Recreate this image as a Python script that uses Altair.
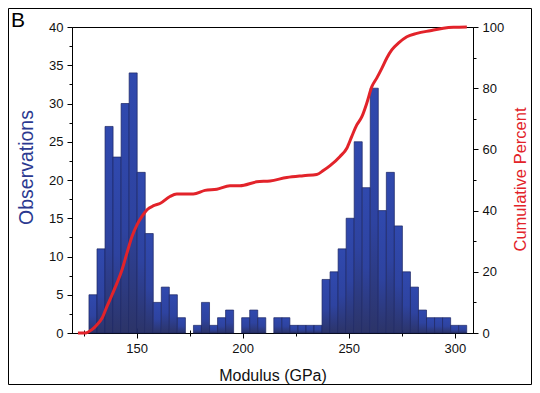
import altair as alt
import pandas as pd

# ---- data ----
counts = [5, 11, 27, 23, 30, 34, 21, 13, 4, 6, 5, 2, 0, 1, 4, 1, 2, 3, 0, 2, 3, 2, 0,
          2, 2, 1, 1, 1, 1, 7, 8, 11, 15, 25, 19, 32, 16, 21, 14, 8, 6, 3, 2, 2, 2, 1, 1]
BIN_START = 127.5
BIN_WIDTH = 3.79

cum_modulus = [122.3, 125.8, 128.9, 131.3, 133.7, 136.0, 138.4, 140.7, 143.1, 145.4,
               147.8, 150.2, 152.5, 154.9, 158.0, 161.2, 165.7, 168.9, 176.7, 182.2,
               187.8, 194.0, 198.7, 206.6, 212.9, 220.8, 228.6, 234.9, 238.0, 241.2,
               245.9, 249.1, 251.4, 253.8, 256.2, 258.5, 260.9, 263.2, 265.6, 267.9,
               270.3, 273.4, 277.4, 282.1, 288.4, 294.6, 299.4, 305.7]
cum_percent = [0, 0, 1.1, 2.7, 4.9, 8.7, 12.5, 16.3, 20.7, 26.1,
               31.5, 35.4, 38.1, 40.3, 41.6, 42.4, 44.6, 45.4, 45.4, 46.6,
               47.0, 48.1, 48.1, 49.4, 49.7, 50.8, 51.4, 51.8, 53.1, 54.7,
               57.7, 60.4, 64.2, 68.0, 70.7, 75.1, 80.5, 83.3, 86.5, 89.8,
               92.5, 94.7, 96.8, 97.9, 98.8, 99.6, 99.9, 100]

x_ticks = [125, 150, 175, 200, 225, 250, 275, 300]
y_left_ticks = [0, 2.5, 5, 7.5, 10, 12.5, 15, 17.5, 20, 22.5, 25, 27.5, 30, 32.5, 35, 37.5, 40]
y_right_ticks = [0, 10, 20, 30, 40, 50, 60, 70, 80, 90, 100]

bins = pd.DataFrame({
    "start": [BIN_START + i * BIN_WIDTH for i in range(len(counts))],
    "count": counts,
})
bins["end"] = bins["start"] + BIN_WIDTH
curve = pd.DataFrame({"modulus": cum_modulus, "percent": cum_percent})

W, H = 401, 306
X_DOMAIN = [119.5, 308.6]
FONT = "Liberation Sans"
BLUE_TITLE = "#2b3990"
RED = "#e2232a"


def ticksize(test):
    return {"condition": {"test": test, "value": 3}, "value": 5}


x_scale = alt.Scale(domain=X_DOMAIN, nice=False, zero=False)

bars = alt.Chart(bins).transform_filter("datum.count > 0").mark_bar(
    fill=alt.Gradient(
        gradient="linear",
        stops=[alt.GradientStop(color="#3049ae", offset=0),
               alt.GradientStop(color="#2e43a0", offset=0.55),
               alt.GradientStop(color="#2c3468", offset=1)],
        x1=0, x2=0, y1=0, y2=1),
    stroke="#1b2563", strokeWidth=0.7,
).encode(
    x=alt.X("start:Q", scale=x_scale, axis=alt.Axis(
        values=x_ticks, title="Modulus (GPa)",
        labelExpr="datum.value % 50 == 0 ? datum.label : ''",
        tickSize=ticksize("datum.value % 50 != 0"),
        labelPadding=4, labelFontSize=13, labelFlush=False, labelOverlap=False,
        titleFontSize=16, titleFontWeight="normal", titleX=W / 2, titleY=47,
        titleBaseline="alphabetic", titleAlign="center")),
    x2="end:Q",
    y=alt.Y("count:Q", scale=alt.Scale(domain=[0, 40], nice=False), axis=alt.Axis(
        orient="left", values=y_left_ticks, title="Observations",
        labelExpr="datum.value % 5 == 0 ? datum.label : ''",
        tickSize=ticksize("datum.value % 5 != 0"),
        labelPadding=4, labelFontSize=13, labelOverlap=False, labelFlush=False,
        titleColor=BLUE_TITLE, titleFontSize=19.5, titleFontWeight="normal",
        titleAngle=270, titleX=-40, titleY=140, titleBaseline="alphabetic",
        titleAlign="center")),
    y2=alt.datum(0),
)

line = alt.Chart(curve).mark_line(color=RED, strokeWidth=3, interpolate="monotone").encode(
    x=alt.X("modulus:Q", scale=x_scale, axis=alt.Axis(
        values=x_ticks, labels=False, title=None, offset=-H,
        tickSize=ticksize("datum.value % 50 != 0"))),
    y=alt.Y("percent:Q", scale=alt.Scale(domain=[0, 100], nice=False), axis=alt.Axis(
        orient="right", values=y_right_ticks, title="Cumulative Percent",
        labelExpr="datum.value % 20 == 0 ? datum.label : ''",
        tickSize=ticksize("datum.value % 20 != 0"),
        labelPadding=4, labelFontSize=13, labelOverlap=False, labelFlush=False,
        titleColor=RED, titleFontSize=16.5, titleFontWeight="normal",
        titleAngle=270, titleX=52, titleY=152, titleBaseline="alphabetic",
        titleAlign="center")),
)

one = alt.Data(values=[{"k": 1}])
border = alt.Chart(one).mark_rect(fillOpacity=0, stroke="black", strokeWidth=1).encode(
    x=alt.value(-63.5), x2=alt.value(W + 58.5), y=alt.value(-18.5), y2=alt.value(H + 51.5))
label_b = alt.Chart(one).mark_text(
    text="B", align="left", baseline="alphabetic", fontSize=21, font=FONT, color="black"
).encode(x=alt.value(-61), y=alt.value(0))

chart = alt.layer(border, bars, line, label_b).resolve_scale(
    y="independent"
).resolve_axis(
    x="independent"
).properties(
    width=W, height=H,
    autosize=alt.AutoSizeParams(type="none"),
    padding={"left": 64, "top": 19, "right": 59, "bottom": 52},
).configure_view(
    stroke="black", strokeWidth=1
).configure_axis(
    labelFont=FONT, titleFont=FONT, domainColor="black", tickColor="black",
    labelColor="#111111", titleColor="#111111", grid=False, domainWidth=1, tickWidth=1,
)

chart.save("out.html", embed_options={"renderer": "svg", "actions": False})
